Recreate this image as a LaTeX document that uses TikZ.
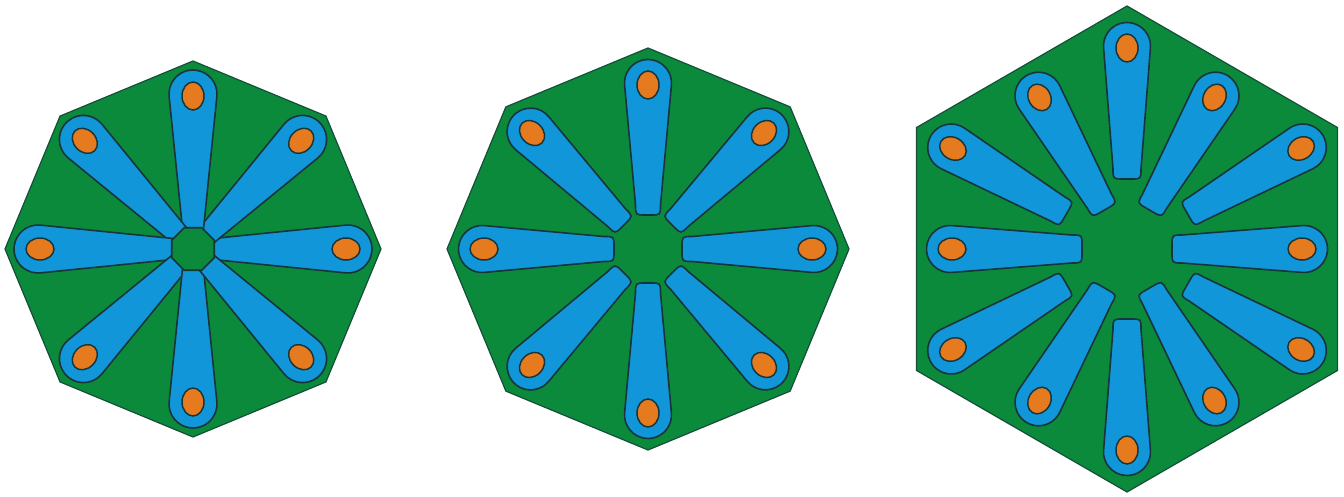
\documentclass[tikz,border=0pt]{standalone}
\usepackage{xcolor}
\definecolor{fieldgreen}{HTML}{0C8A3B}
\definecolor{petalblue}{HTML}{1196DA}
\definecolor{seedorange}{HTML}{E67A1E}
\definecolor{edgedark}{HTML}{17353A}
\tikzset{
  polysty/.style={fill=fieldgreen, draw=edgedark!70!fieldgreen, line width=0.9pt, line join=miter},
  petalsty/.style={fill=petalblue, draw=edgedark, line width=1.2pt},
  seedsty/.style={fill=seedorange, draw=edgedark, line width=1.1pt},
  hubsty/.style={fill=fieldgreen, draw=edgedark, line width=1.2pt},
}
% #1 inner distance, #2 inner half width, #3 outer centre distance, #4 outer radius
\newcommand{\petalshape}[4]{%
  \pgfmathsetmacro\tang{90+asin((#4-#2)/(#3-#1-10))}%
  \draw[petalsty] (-\tang:#4) ++(#3,0) arc[start angle=-\tang, end angle=\tang, radius=#4]
    -- (#1+10,#2) .. controls (#1,#2) .. (#1,#2-10)
    -- (#1,-#2+10) .. controls (#1,-#2) .. (#1+10,-#2) -- cycle;
  \draw[seedsty] (#3-2,0) ellipse[x radius=14, y radius=11];
}
\begin{document}
\begin{tikzpicture}[x=0.75pt, y=0.75pt]
\useasboundingbox (0,0) rectangle (1344,496);
% ---------- left octagon ----------
\begin{scope}[shift={(193,247)}]
  \draw[polysty] (90:188) -- (135:188) -- (180:188) -- (225:188)
    -- (270:188) -- (315:188) -- (0:188) -- (45:188) -- cycle;
  \foreach \a in {0,45,...,315}{
    \begin{scope}[rotate=\a]
      \petalshape{0}{9.5}{155}{24}
    \end{scope}
  }
  \draw[hubsty] (22.5:23) -- (67.5:23) -- (112.5:23) -- (157.5:23)
    -- (202.5:23) -- (247.5:23) -- (292.5:23) -- (337.5:23) -- cycle;
\end{scope}
% ---------- middle octagon ----------
\begin{scope}[shift={(648,247)}]
  \draw[polysty] (90:201) -- (135:201) -- (180:201) -- (225:201)
    -- (270:201) -- (315:201) -- (0:201) -- (45:201) -- cycle;
  \foreach \a in {0,45,...,315}{
    \begin{scope}[rotate=\a]
      \petalshape{34}{12.5}{166}{23.5}
    \end{scope}
  }
\end{scope}
% ---------- right hexagon ----------
\begin{scope}[shift={(1127,247)}]
  \draw[polysty] (90:243) -- (150:243) -- (210:243) -- (270:243)
    -- (330:243) -- (30:243) -- cycle;
  \foreach \a in {30,90,...,330}{
    \begin{scope}[rotate=\a]
      \petalshape{70}{14}{203}{23.5}
    \end{scope}
  }
  \foreach \a in {0,60,...,300}{
    \begin{scope}[rotate=\a]
      \petalshape{45}{14}{177}{23.5}
    \end{scope}
  }
\end{scope}
\end{tikzpicture}
\end{document}
